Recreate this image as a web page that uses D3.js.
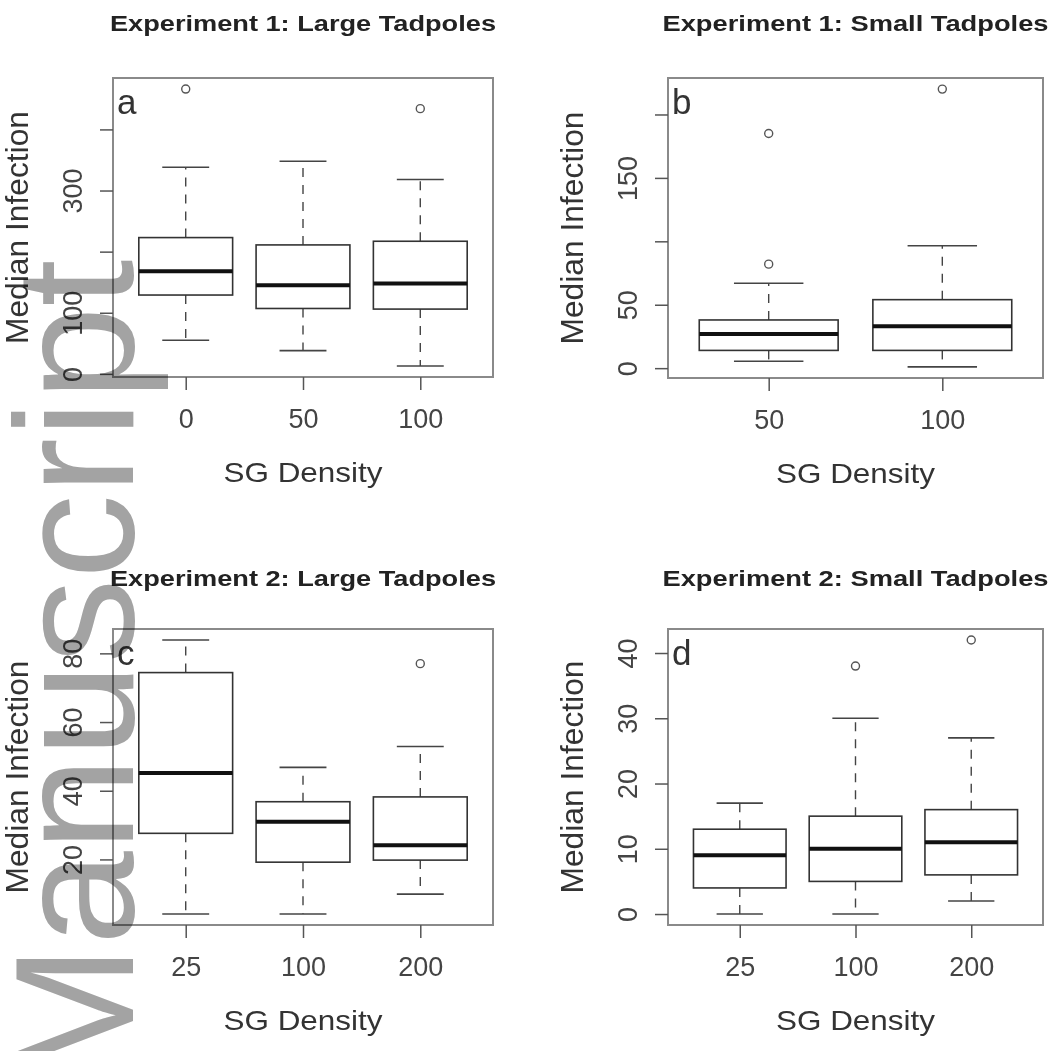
<!DOCTYPE html>
<html>
<head>
<meta charset="utf-8">
<script src="https://cdn.jsdelivr.net/npm/d3@7"></script>
<style>
  html, body { margin: 0; padding: 0; background: #fff; }
  svg { display: block; }
  text { font-family: "Liberation Sans", Arial, Helvetica, sans-serif; }
</style>
</head>
<body>
<script>
// ---------------- DATA ----------------
// Panel a: Experiment 1, Large Tadpoles
const titleA = "Experiment 1: Large Tadpoles";
const catsA = ["0", "50", "100"];
const lowA  = [55, 38, 13];
const q1A   = [129, 107, 106];
const medA  = [168, 145, 148];
const q3A   = [223, 211, 217];
const highA = [338, 348, 318];
const outA  = [[466], [], [434]];
const yTicksA  = [0, 100, 200, 300, 400];
const yLabelsA = ["0", "100", "", "300", ""];

// Panel b: Experiment 1, Small Tadpoles
const titleB = "Experiment 1: Small Tadpoles";
const catsB = ["50", "100"];
const lowB  = [5.5, 1];
const q1B   = [14, 14];
const medB  = [27, 33];
const q3B   = [38, 54];
const highB = [67, 96.5];
const outB  = [[82, 185], [220]];
const yTicksB  = [0, 50, 100, 150, 200];
const yLabelsB = ["0", "50", "", "150", ""];

// Panel c: Experiment 2, Large Tadpoles
const titleC = "Experiment 2: Large Tadpoles";
const catsC = ["25", "100", "200"];
const lowC  = [4.1, 4.1, 9.9];
const q1C   = [27.6, 19.2, 19.8];
const medC  = [45.2, 31.0, 24.1];
const q3C   = [74.4, 36.8, 38.2];
const highC = [83.9, 46.8, 52.9];
const outC  = [[], [], [77]];
const yTicksC  = [20, 40, 60, 80];
const yLabelsC = ["20", "40", "60", "80"];

// Panel d: Experiment 2, Small Tadpoles
const titleD = "Experiment 2: Small Tadpoles";
const catsD = ["25", "100", "200"];
const lowD  = [0, 0, 2];
const q1D   = [4, 5, 6];
const medD  = [9, 10, 11];
const q3D   = [13, 15, 16];
const highD = [17, 30, 27];
const outD  = [[], [38], [42]];
const yTicksD  = [0, 10, 20, 30, 40];
const yLabelsD = ["0", "10", "20", "30", "40"];

const panelLetters = ["a", "b", "c", "d"];
const xAxisTitle = "SG Density";
const yAxisTitle = "Median Infection";
const watermark = "Manuscript";

// ---------------- DRAWING ----------------
const W = 1061, H = 1051;
const svg = d3.select("body").append("svg")
  .attr("width", W).attr("height", H)
  .attr("viewBox", `0 0 ${W} ${H}`);
svg.append("rect").attr("width", W).attr("height", H).attr("fill", "#fff");

const panels = [
  { title: titleA, cats: catsA, low: lowA, q1: q1A, med: medA, q3: q3A, high: highA, out: outA,
    ticks: yTicksA, labels: yLabelsA, letter: panelLetters[0],
    frame: { x0: 113, x1: 493, y0: 78, y1: 377 }, titleY: 31 },
  { title: titleB, cats: catsB, low: lowB, q1: q1B, med: medB, q3: q3B, high: highB, out: outB,
    ticks: yTicksB, labels: yLabelsB, letter: panelLetters[1],
    frame: { x0: 668, x1: 1043, y0: 78, y1: 378 }, titleY: 31 },
  { title: titleC, cats: catsC, low: lowC, q1: q1C, med: medC, q3: q3C, high: highC, out: outC,
    ticks: yTicksC, labels: yLabelsC, letter: panelLetters[2],
    frame: { x0: 113, x1: 493, y0: 629, y1: 925 }, titleY: 586 },
  { title: titleD, cats: catsD, low: lowD, q1: q1D, med: medD, q3: q3D, high: highD, out: outD,
    ticks: yTicksD, labels: yLabelsD, letter: panelLetters[3],
    frame: { x0: 668, x1: 1043, y0: 629, y1: 925 }, titleY: 586 }
];

panels.forEach(p => {
  const f = p.frame;
  const n = p.cats.length;
  const x = d3.scaleLinear()
    .domain([0.5 - 0.04 * n, n + 0.5 + 0.04 * n])
    .range([f.x0, f.x1]);
  const allVals = p.low.concat(p.high, p.out.flat());
  const lo = d3.min(allVals), hi = d3.max(allVals);
  const r = hi - lo;
  const y = d3.scaleLinear()
    .domain([lo - 0.04 * r, hi + 0.04 * r])
    .range([f.y1, f.y0]);
  const unit = x(1) - x(0);
  const cx = (f.x0 + f.x1) / 2, cy = (f.y0 + f.y1) / 2;

  const g = svg.append("g");

  // frame
  g.append("rect")
    .attr("x", f.x0).attr("y", f.y0)
    .attr("width", f.x1 - f.x0).attr("height", f.y1 - f.y0)
    .attr("fill", "none").attr("stroke", "#8a8a8a").attr("stroke-width", 2);

  const idx = d3.range(n);
  const bx = g.selectAll("g.box").data(idx).enter().append("g").attr("class", "box");

  // whiskers (dashed)
  bx.append("line")
    .attr("x1", i => x(i + 1)).attr("x2", i => x(i + 1))
    .attr("y1", i => y(p.q3[i])).attr("y2", i => y(p.high[i]))
    .attr("stroke", "#444").attr("stroke-width", 1.4).attr("stroke-dasharray", "9,8");
  bx.append("line")
    .attr("x1", i => x(i + 1)).attr("x2", i => x(i + 1))
    .attr("y1", i => y(p.q1[i])).attr("y2", i => y(p.low[i]))
    .attr("stroke", "#444").attr("stroke-width", 1.4).attr("stroke-dasharray", "9,8");
  // staples
  bx.append("line")
    .attr("x1", i => x(i + 1) - 0.2 * unit).attr("x2", i => x(i + 1) + 0.2 * unit)
    .attr("y1", i => y(p.high[i])).attr("y2", i => y(p.high[i]))
    .attr("stroke", "#444").attr("stroke-width", 1.6);
  bx.append("line")
    .attr("x1", i => x(i + 1) - 0.2 * unit).attr("x2", i => x(i + 1) + 0.2 * unit)
    .attr("y1", i => y(p.low[i])).attr("y2", i => y(p.low[i]))
    .attr("stroke", "#444").attr("stroke-width", 1.6);
  // box
  bx.append("rect")
    .attr("x", i => x(i + 1) - 0.4 * unit)
    .attr("width", 0.8 * unit)
    .attr("y", i => y(p.q3[i]))
    .attr("height", i => y(p.q1[i]) - y(p.q3[i]))
    .attr("fill", "#fff").attr("stroke", "#333").attr("stroke-width", 1.6);
  // median
  bx.append("line")
    .attr("x1", i => x(i + 1) - 0.4 * unit).attr("x2", i => x(i + 1) + 0.4 * unit)
    .attr("y1", i => y(p.med[i])).attr("y2", i => y(p.med[i]))
    .attr("stroke", "#111").attr("stroke-width", 4);
  // outliers
  idx.forEach(i => {
    g.selectAll(null).data(p.out[i]).enter().append("circle")
      .attr("cx", x(i + 1)).attr("cy", v => y(v)).attr("r", 4)
      .attr("fill", "none").attr("stroke", "#555").attr("stroke-width", 1.4);
  });

  // x axis
  const xa = g.append("g").attr("transform", `translate(0,${f.y1})`)
    .call(d3.axisBottom(x).tickValues(d3.range(1, n + 1))
      .tickFormat(i => p.cats[i - 1]).tickSize(13));
  xa.select(".domain").remove();
  xa.selectAll(".tick line").attr("stroke", "#555").attr("stroke-width", 1.5);
  xa.selectAll(".tick text")
    .attr("y", 51).attr("dy", null)
    .attr("font-size", 27).attr("fill", "#444")
    .attr("font-family", '"Liberation Sans", Arial, sans-serif');

  // y axis
  const ya = g.append("g").attr("transform", `translate(${f.x0},0)`)
    .call(d3.axisLeft(y).tickValues(p.ticks)
      .tickFormat((d, i) => p.labels[i]).tickSize(13));
  ya.select(".domain").remove();
  ya.selectAll(".tick line").attr("stroke", "#555").attr("stroke-width", 1.5);
  ya.selectAll(".tick text")
    .attr("x", null).attr("dy", null).attr("y", null)
    .attr("text-anchor", "middle")
    .attr("transform", "translate(-31,0) rotate(-90)")
    .attr("font-size", 27).attr("fill", "#444")
    .attr("font-family", '"Liberation Sans", Arial, sans-serif');

  // title
  g.append("text")
    .attr("x", cx).attr("y", p.titleY)
    .attr("text-anchor", "middle")
    .attr("font-weight", "bold").attr("font-size", 22)
    .attr("textLength", 386).attr("lengthAdjust", "spacingAndGlyphs")
    .attr("fill", "#222")
    .text(p.title);

  // x axis title
  g.append("text")
    .attr("x", cx).attr("y", f.y1 + 105)
    .attr("text-anchor", "middle")
    .attr("font-size", 28)
    .attr("textLength", 159).attr("lengthAdjust", "spacingAndGlyphs")
    .attr("fill", "#333")
    .text(xAxisTitle);

  // y axis title
  g.append("text")
    .attr("transform", `translate(${f.x0 - 85},${cy}) rotate(-90)`)
    .attr("text-anchor", "middle")
    .attr("font-size", 31)
    .attr("textLength", 233).attr("lengthAdjust", "spacingAndGlyphs")
    .attr("fill", "#333")
    .text(yAxisTitle);

  // panel letter
  g.append("text")
    .attr("x", f.x0 + 4).attr("y", f.y0 + 36)
    .attr("font-size", 35)
    .attr("fill", "#333")
    .text(p.letter);
});

// watermark
svg.append("text")
  .attr("transform", "translate(133,1086) rotate(-90)")
  .attr("font-size", 169)
  .attr("fill", "#a3a3a3")
  .style("mix-blend-mode", "multiply")
  .text(watermark);
</script>
</body>
</html>
